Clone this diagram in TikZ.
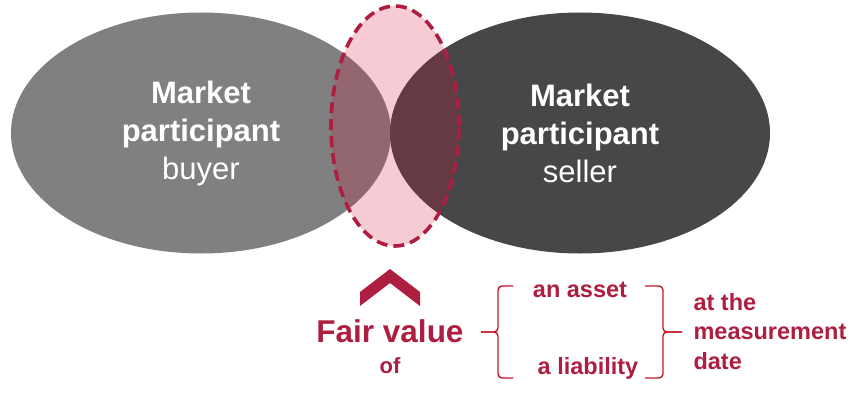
\documentclass[tikz,border=0pt]{standalone}
\usepackage{fontspec}
\setmainfont{Liberation Sans}
\usetikzlibrary{shapes.geometric}

\definecolor{fvred}{RGB}{174,30,64}
\definecolor{bracered}{RGB}{196,20,40}
\definecolor{pinkfill}{RGB}{216,16,56}
\definecolor{buyergray}{RGB}{128,128,128}
\definecolor{sellergray}{RGB}{71,71,73}

\tikzset{
	party/.style={ellipse, minimum width=380pt, minimum height=241pt, inner sep=0pt,
		text=white, align=center, font=\fontsize{31}{38}\selectfont},
	fvtext/.style={text=fvred, font=\bfseries\fontsize{23.5}{29.5}\selectfont},
	bracepath/.style={draw=bracered, line width=1.4pt, rounded corners=4pt}
}

\begin{document}
\begin{tikzpicture}[x=1pt, y=-1pt]
			\useasboundingbox (0,0) rectangle (851,396);

			\node (buyer) [party, fill=buyergray] at (201,133) {\textbf{Market}\\\textbf{participant}\\buyer};
			\node (seller) [party, fill=sellergray] at (580,133) {\textbf{Market}\\\textbf{participant}\\seller};
			\node (fv) [ellipse, minimum width=128pt, minimum height=240pt, fill=pinkfill, fill opacity=0.22,
				draw=fvred, draw opacity=1, line width=3.6pt, dash pattern=on 11pt off 6pt] at (395,126) {};

			\fill[fvred] (360,306) -- (360,292) -- (390,269) -- (420,292) -- (420,306) -- (390,283) -- cycle;

			\node (fair) [anchor=base, text=fvred, font=\bfseries\fontsize{31.5}{36}\selectfont] at (390,342) {Fair value};
			\node (of) [anchor=base, text=fvred, font=\bfseries\fontsize{22}{26}\selectfont] at (390,373) {of};

			\node (asset) [fvtext, anchor=base] at (580,297) {an asset};
			\node (liab) [fvtext, anchor=base] at (588,374) {a liability};
			\node (date) [fvtext, anchor=base west, align=left] at (690,369) {at the\\measurement\\date};

			\path[bracepath] (513,286) -- (498,286) -- (498,332) -- (481,332);
			\path[bracepath] (481,332) -- (498,332) -- (498,378) -- (513,378);
			\path[bracepath] (645,286) -- (663,286) -- (663,332) -- (682,332);
			\path[bracepath] (682,332) -- (663,332) -- (663,378) -- (645,378);

		  \end{tikzpicture}
\end{document}
